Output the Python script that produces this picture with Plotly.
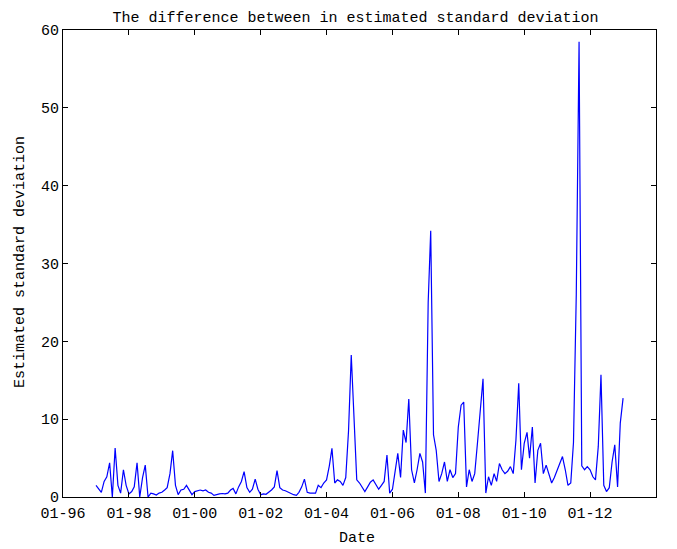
import pandas as pd
import plotly.graph_objects as go

# Monthly dates, Jan 1997 .. Jan 2013
start_date = "1997-01-01"
n_months = 193

values = [
    # 1997
    1.5, 1.0, 0.6, 2.0, 2.6, 4.4, 0.0, 6.3, 1.5, 0.5, 3.5, 1.5,
    # 1998
    0.4, 0.7, 1.3, 4.4, 0.0, 2.5, 4.1, 0.0, 0.5, 0.4, 0.25, 0.5,
    # 1999
    0.6, 0.9, 1.2, 3.0, 5.95, 1.5, 0.3, 0.9, 1.0, 1.5, 0.8, 0.3,
    # 2000
    0.7, 0.8, 0.9, 0.8, 0.9, 0.6, 0.5, 0.2, 0.35, 0.4, 0.45, 0.4,
    # 2001
    0.5, 0.9, 1.1, 0.4, 1.3, 2.0, 3.25, 1.2, 0.6, 1.0, 2.3, 1.0,
    # 2002
    0.3, 0.4, 0.35, 0.6, 0.9, 1.3, 3.4, 1.2, 0.9, 0.8, 0.6, 0.4,
    # 2003
    0.3, 0.2, 0.6, 1.3, 2.3, 0.6, 0.5, 0.5, 0.5, 1.5, 1.2, 1.8,
    # 2004
    2.2, 4.0, 6.25, 1.8, 2.2, 2.0, 1.5, 2.5, 8.5, 18.25, 10.0, 2.2,
    # 2005
    1.8, 1.2, 0.7, 1.3, 1.9, 2.2, 1.6, 1.0, 1.5, 2.0, 5.4, 0.5,
    # 2006
    1.0, 3.5, 5.6, 2.5, 8.6, 7.0, 12.6, 3.5, 1.8, 3.5, 5.6, 4.5,
    # 2007
    0.5, 25.0, 34.2, 8.0, 6.0, 2.0, 3.0, 4.5, 2.0, 3.5, 2.5, 3.0,
    # 2008
    9.0, 11.8, 12.2, 1.3, 3.5, 2.0, 3.0, 7.0, 11.6, 15.2, 0.5, 2.6,
    # 2009
    1.5, 3.0, 2.0, 4.3, 3.5, 3.0, 3.3, 3.9, 3.0, 7.3, 14.6, 3.5,
    # 2010
    6.9, 8.3, 5.0, 9.0, 1.8, 6.0, 6.9, 3.0, 4.1, 3.0, 1.8, 2.5,
    # 2011
    3.5, 4.3, 5.2, 3.5, 1.5, 1.8, 7.0, 26.0, 58.5, 4.0, 3.5, 3.9,
    # 2012
    3.5, 2.6, 2.2, 6.5, 15.7, 1.5, 0.7, 1.2, 4.5, 6.7, 1.3, 9.5,
    # 2013
    12.7,
]

dates = pd.date_range(start_date, periods=n_months, freq="MS")

title_text = "The difference between in estimated standard deviation"
x_title = "Date"
y_title = "Estimated standard deviation"

FONT = "Liberation Mono"
OFF = 8  # default page margin of the HTML body
W, H = 677 - OFF, 549 - OFF
ML, MR, MT, MB = 63 - OFF, 21, 30 - OFF, 52
PW, PH = W - ML - MR, H - MT - MB

fig = go.Figure()
fig.add_trace(go.Scatter(
    x=dates, y=values, mode="lines",
    line=dict(color="rgb(0,0,255)", width=1.2),
    showlegend=False,
))

axis_common = dict(
    showline=True, linecolor="black", linewidth=1,
    mirror="ticks", ticks="inside", ticklen=5, tickcolor="black",
    showgrid=False, zeroline=False, automargin=False,
    tickfont=dict(family=FONT, size=15, color="black"),
)

fig.update_layout(
    width=W, height=H,
    margin=dict(l=ML, r=MR, t=MT, b=MB),
    paper_bgcolor="white", plot_bgcolor="white",
    title=dict(text=title_text, x=(355.5 - OFF) / W, xanchor="center",
               y=1 - (17 - OFF) / H, yanchor="middle",
               font=dict(family=FONT, size=15, color="black")),
    xaxis=dict(
        range=["1996-01-01", "2014-01-01"], type="date",
        tick0="1996-01-01", dtick="M24", tickformat="%m-%y",
        ticklabelstandoff=2,
        **axis_common,
    ),
    yaxis=dict(
        range=[0, 60], dtick=10,
        **axis_common,
    ),
    annotations=[
        dict(text=x_title, xref="paper", yref="paper",
             x=(357 - OFF - ML) / PW, y=-(538 - OFF - (MT + PH)) / PH,
             xanchor="center", yanchor="middle", showarrow=False,
             font=dict(family=FONT, size=15, color="black")),
        dict(text=y_title, xref="paper", yref="paper",
             x=(20 - OFF - ML) / PW, y=(MT + PH - (262 - OFF)) / PH,
             xanchor="center", yanchor="middle", textangle=-90, showarrow=False,
             font=dict(family=FONT, size=15, color="black")),
    ],
)

fig.write_html("out.html")
